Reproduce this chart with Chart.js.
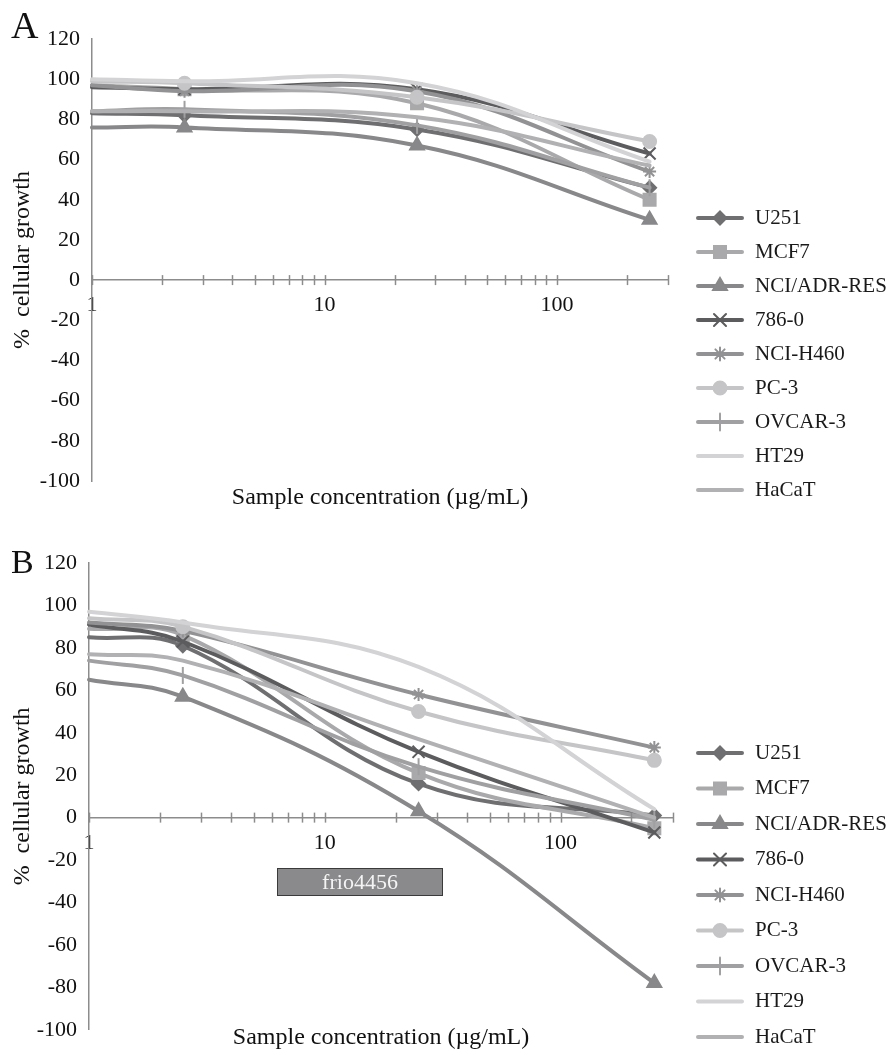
<!DOCTYPE html>
<html>
<head>
<meta charset="utf-8">
<script src="https://cdn.jsdelivr.net/npm/chart.js@4.4.1/dist/chart.umd.min.js"></script>
<style>
  body { margin: 0; background: #fff; }
  #wrap { position: relative; width: 888px; height: 1055px; }
  canvas { position: absolute; left: 0; }
  #ca { top: 0; }
  #cb { top: 525px; }
</style>
</head>
<body>
<div id="wrap">
  <canvas id="ca" width="888" height="522"></canvas>
  <canvas id="cb" width="888" height="530"></canvas>
</div>
<script>
// concentrations (µg/mL); the first one is where the curves meet the y axis
const conc = [1, 2.5, 25, 250];
const xTicks = [1, 2, 3, 4, 5, 6, 7, 8, 9, 10, 20, 30, 40, 50, 60, 70, 80, 90, 100, 200, 300];
const xLabels = [1, 10, 100];
const cells = ["U251", "MCF7", "NCI/ADR-RES", "786-0", "NCI-H460", "PC-3", "OVCAR-3", "HT29", "HaCaT"];

// panel A, % cellular growth
const U251_A   = [83, 82, 75, 46];
const MCF7_A   = [97, 95, 88, 40];
const NCIADR_A = [76, 76, 67, 30];
const R786_A   = [96, 95, 95, 63];
const H460_A   = [97, 94, 94, 54];
const PC3_A    = [99, 98, 91, 69];
const OVCAR3_A = [84, 85, 77, 46];
const HT29_A   = [100, 99, 98, 59];
const HaCaT_A  = [84, 84, 81, 57];

// panel B
const U251_B   = [85, 81, 16, 1];
const MCF7_B   = [89, 86, 21, -5];
const NCIADR_B = [65, 57, 3, -78];
const R786_B   = [91, 83, 31, -7];
const H460_B   = [92, 88, 58, 33];
const PC3_B    = [94, 90, 50, 27];
const OVCAR3_B = [74, 67, 24, -1];
const HT29_B   = [97, 92, 71, 4];
const HaCaT_B  = [77, 74, 37, 0];

const colors = ["#6f6f71", "#a9a9ab", "#88888a", "#5c5c5e", "#929294", "#c5c5c7", "#a0a0a2", "#d3d3d5", "#b1b1b3"];
const marks = [
  { style: "rectRot", r: 6.5, rot: 0 },
  { style: "rect", r: 8.5, rot: 0 },
  { style: "triangle", r: 8, rot: 0 },
  { style: "crossRot", r: 8.5, rot: 0 },
  { style: "star", r: 6.5, rot: 0 },
  { style: "circle", r: 6.5, rot: 0 },
  { style: "line", r: 8.5, rot: 90 },
  null,
  null
];

const serif = '"Liberation Serif", "Times New Roman", serif';

function makeSets(series) {
  return series.map((vals, i) => {
    const m = marks[i];
    return {
      label: cells[i],
      data: conc.map((c, j) => ({ x: c, y: vals[j] })),
      borderColor: colors[i],
      backgroundColor: colors[i],
      borderWidth: 4,
      borderCapStyle: "round",
      tension: 0.4,
      clip: false,
      order: series.length - i,
      pointStyle: m ? m.style : false,
      pointRotation: m ? m.rot : 0,
      pointRadius: ctx => (m && ctx.dataIndex > 0) ? m.r : 0,
      pointBorderWidth: 2,
      pointBorderColor: colors[i],
      pointBackgroundColor: colors[i],
      legendMark: m
    };
  });
}

// small tick marks that cross the x axis line
const crossTicks = {
  id: "crossTicks",
  afterDraw(chart) {
    const sx = chart.scales.x, sy = chart.scales.y;
    const y0 = sy.getPixelForValue(0);
    const ctx = chart.ctx;
    ctx.save();
    ctx.strokeStyle = "#8c8c8c";
    ctx.lineWidth = 1.5;
    xTicks.forEach(v => {
      const px = Math.round(sx.getPixelForValue(v)) + 0.5;
      ctx.beginPath();
      ctx.moveTo(px, y0 - 5);
      ctx.lineTo(px, y0 + 5);
      ctx.stroke();
    });
    ctx.restore();
  }
};

// legend drawn beside the plot: line sample, marker, name
const sideLegend = {
  id: "sideLegend",
  afterDraw(chart, args, opts) {
    const ctx = chart.ctx;
    ctx.save();
    chart.data.datasets.forEach((ds, i) => {
      const y = opts.top + i * opts.gap;
      ctx.strokeStyle = ds.borderColor;
      ctx.lineWidth = 4;
      ctx.lineCap = "round";
      ctx.beginPath();
      ctx.moveTo(opts.left, y);
      ctx.lineTo(opts.left + 44, y);
      ctx.stroke();
      const m = ds.legendMark;
      if (m && Chart.helpers && Chart.helpers.drawPoint) {
        ctx.fillStyle = ds.borderColor;
        ctx.lineWidth = 2;
        Chart.helpers.drawPoint(ctx, { pointStyle: m.style, radius: m.r, rotation: m.rot, borderWidth: 2 }, opts.left + 22, y);
      }
      ctx.fillStyle = "#1a1a1a";
      ctx.font = "21px " + serif;
      ctx.textBaseline = "middle";
      ctx.textAlign = "left";
      ctx.fillText(ds.label, opts.left + 57, y);
    });
    ctx.restore();
  }
};

// panel letter, x axis title, and the grey stamp box
const decor = {
  id: "decor",
  afterDraw(chart, args, opts) {
    const ctx = chart.ctx;
    const area = chart.chartArea;
    ctx.save();
    ctx.fillStyle = "#111";
    ctx.textAlign = "left";
    ctx.textBaseline = "alphabetic";
    ctx.font = opts.letterSize + "px " + serif;
    ctx.fillText(opts.letter, 11, opts.letterY);
    ctx.textAlign = "center";
    ctx.textBaseline = "middle";
    ctx.font = "24px " + serif;
    ctx.fillText("Sample concentration (µg/mL)", (area.left + area.right) / 2, opts.titleY);
    if (opts.box) {
      const b = opts.box;
      ctx.fillStyle = "#8a8a8c";
      ctx.fillRect(b.x, b.y, b.w, b.h);
      ctx.strokeStyle = "#3a3a3a";
      ctx.lineWidth = 1;
      ctx.strokeRect(b.x + 0.5, b.y + 0.5, b.w - 1, b.h - 1);
      ctx.fillStyle = "#f4f4f4";
      ctx.font = "22px " + serif;
      ctx.fillText(b.text, b.x + b.w / 2, b.y + b.h / 2 + 1);
    }
    ctx.restore();
  }
};

function makeChart(id, series, cfg) {
  return new Chart(document.getElementById(id), {
    type: "line",
    data: { datasets: makeSets(series) },
    plugins: [crossTicks, sideLegend, decor],
    options: {
      responsive: false,
      animation: false,
      devicePixelRatio: 1,
      layout: { padding: cfg.padding },
      plugins: {
        legend: { display: false },
        tooltip: { enabled: false },
        sideLegend: cfg.legend,
        decor: cfg.decor
      },
      scales: {
        x: {
          type: "logarithmic",
          min: 1,
          max: 300,
          position: { y: 0 },
          afterBuildTicks: s => { s.ticks = xTicks.map(v => ({ value: v })); },
          ticks: {
            autoSkip: false,
            maxRotation: 0,
            padding: 12,
            color: "#111",
            font: { family: serif, size: 22 },
            callback: v => xLabels.includes(v) ? String(v) : ""
          },
          grid: { drawOnChartArea: false, drawTicks: false },
          border: { color: "#8c8c8c", width: 1.5 }
        },
        y: {
          min: -100,
          max: 120,
          afterFit: s => { s.width = cfg.yWidth; },
          ticks: { stepSize: 20, padding: 12, color: "#111", font: { family: serif, size: 22 } },
          grid: { drawOnChartArea: false, drawTicks: false },
          border: { color: "#8c8c8c", width: 1.5 },
          title: {
            display: true,
            text: "%  cellular growth",
            color: "#111",
            font: { family: serif, size: 24 },
            padding: { top: 8, bottom: 0 }
          }
        }
      }
    }
  });
}

makeChart("ca", [U251_A, MCF7_A, NCIADR_A, R786_A, H460_A, PC3_A, OVCAR3_A, HT29_A, HaCaT_A], {
  padding: { left: 0, top: 39, right: 220, bottom: 41 },
  yWidth: 92,
  legend: { left: 698, top: 218, gap: 34 },
  decor: { letter: "A", letterSize: 38, letterY: 38, titleY: 498 }
});

makeChart("cb", [U251_B, MCF7_B, NCIADR_B, R786_B, H460_B, PC3_B, OVCAR3_B, HT29_B, HaCaT_B], {
  padding: { left: 0, top: 38, right: 215, bottom: 19 },
  yWidth: 89,
  legend: { left: 698, top: 228, gap: 35.5 },
  decor: { letter: "B", letterSize: 34, letterY: 48, titleY: 513,
           box: { x: 277, y: 343, w: 166, h: 28, text: "frio4456" } }
});
</script>
</body>
</html>
